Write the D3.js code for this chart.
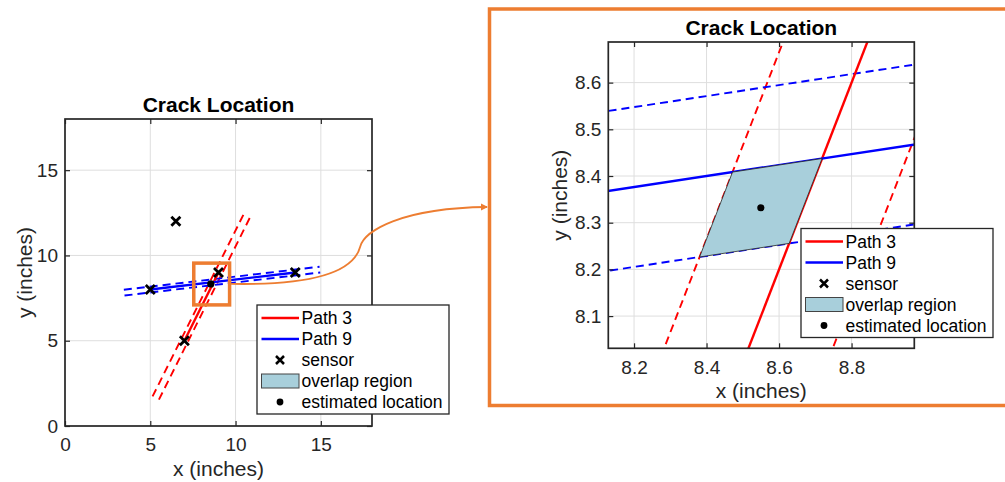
<!DOCTYPE html>
<html>
<head>
<meta charset="utf-8">
<script src="https://cdnjs.cloudflare.com/ajax/libs/d3/7.8.5/d3.min.js"></script>
<style>
  body { margin: 0; background: #fff; }
  svg { display: block; font-family: Arial, 'Liberation Sans', sans-serif; }
</style>
</head>
<body>
<svg id="chart" width="1005" height="482"></svg>
<script>
// sensor positions (inches)
const sensorX = [5, 6.5, 7, 9, 13.5];
const sensorY = [8, 12, 5, 9, 9];

// paths run between sensor pairs
const pathNames = ['Path 3', 'Path 9'];
const pathColors = ['#ff0000', '#0000ff'];
const pathStart = [2, 0];
const pathEnd = [3, 4];
const pathHalfWidth = [0.208, 0.17];
const dashedFrom = [-0.84, -0.18];
const dashedTo = [1.85, 1.17];
// side of each band that makes up the overlap (multiples of half width)
const overlapBand = [[0, 1], [-1, 0]];

// orange zoom box on the full view (inches)
const zoomBoxX = [7.55, 9.65];
const zoomBoxY = [7.1, 9.55];

const fullTicks = [0, 5, 10, 15];
const detailXTicks = [8.2, 8.4, 8.6, 8.8];
const detailYTicks = [8.1, 8.2, 8.3, 8.4, 8.5, 8.6];
const legendLabels = ['Path 3', 'Path 9', 'sensor', 'overlap region', 'estimated location'];

const ORANGE = '#ed7d31';
const AXIS = '#262626';
const PATCH = '#a8cfdb';

const svg = d3.select('#chart');

function pathGeom(i) {
  const ax = sensorX[pathStart[i]], ay = sensorY[pathStart[i]];
  const bx = sensorX[pathEnd[i]], by = sensorY[pathEnd[i]];
  const len = Math.hypot(bx - ax, by - ay);
  return { ax, ay, dx: bx - ax, dy: by - ay, nx: -(by - ay) / len, ny: (bx - ax) / len, w: pathHalfWidth[i] };
}

function offsetLine(p, k, t0, t1) {
  const ox = p.ax + p.nx * p.w * k, oy = p.ay + p.ny * p.w * k;
  return [[ox + p.dx * t0, oy + p.dy * t0], [ox + p.dx * t1, oy + p.dy * t1]];
}

function intersect(p, k1, q, k2) {
  const px = p.ax + p.nx * p.w * k1, py = p.ay + p.ny * p.w * k1;
  const qx = q.ax + q.nx * q.w * k2, qy = q.ay + q.ny * q.w * k2;
  const rx = qx - px, ry = qy - py;
  const det = -p.dx * q.dy + p.dy * q.dx;
  const s = (-rx * q.dy + ry * q.dx) / det;
  return [px + s * p.dx, py + s * p.dy];
}

const geoms = pathNames.map((_, i) => pathGeom(i));
const rb = overlapBand[0], bb = overlapBand[1];
const overlap = [
  intersect(geoms[0], rb[0], geoms[1], bb[1]),
  intersect(geoms[0], rb[0], geoms[1], bb[0]),
  intersect(geoms[0], rb[1], geoms[1], bb[0]),
  intersect(geoms[0], rb[1], geoms[1], bb[1]),
];
const estimate = [d3.mean(overlap, (d) => d[0]), d3.mean(overlap, (d) => d[1])];

function drawPanel(cfg) {
  const g = svg.append('g');
  const x = d3.scaleLinear().domain(cfg.xDomain).range([cfg.left, cfg.left + cfg.width]);
  const y = d3.scaleLinear().domain(cfg.yDomain).range([cfg.top + cfg.height, cfg.top]);
  const bottom = cfg.top + cfg.height, right = cfg.left + cfg.width;

  const clipId = 'clip-' + cfg.id;
  svg.append('clipPath').attr('id', clipId)
    .append('rect').attr('x', cfg.left).attr('y', cfg.top)
    .attr('width', cfg.width).attr('height', cfg.height);

  // grid
  const grid = g.append('g').attr('stroke', '#dedede').attr('stroke-width', 1);
  grid.selectAll('.gx').data(cfg.xTicks).join('line').attr('class', 'gx')
    .attr('x1', (d) => x(d)).attr('x2', (d) => x(d)).attr('y1', cfg.top).attr('y2', bottom);
  grid.selectAll('.gy').data(cfg.yTicks).join('line').attr('class', 'gy')
    .attr('y1', (d) => y(d)).attr('y2', (d) => y(d)).attr('x1', cfg.left).attr('x2', right);

  const plot = g.append('g').attr('clip-path', `url(#${clipId})`);
  const line = d3.line().x((d) => x(d[0])).y((d) => y(d[1]));

  // dashed band edges
  geoms.forEach((p, i) => {
    [-1, 1].forEach((k) => {
      plot.append('path')
        .attr('d', line(offsetLine(p, k, dashedFrom[i], dashedTo[i])))
        .attr('fill', 'none').attr('stroke', pathColors[i])
        .attr('stroke-width', 1.9).attr('stroke-dasharray', '8,5');
    });
  });
  // solid path lines
  geoms.forEach((p, i) => {
    plot.append('path')
      .attr('d', line(offsetLine(p, 0, 0, 1)))
      .attr('fill', 'none').attr('stroke', pathColors[i]).attr('stroke-width', 2.4);
  });

  // overlap region
  plot.append('path')
    .attr('d', line(overlap) + 'Z')
    .attr('fill', PATCH).attr('stroke', '#222').attr('stroke-width', 0.8);

  // sensors
  plot.selectAll('.sensor').data(sensorX).join('path').attr('class', 'sensor')
    .attr('transform', (d, i) => `translate(${x(d)},${y(sensorY[i])})`)
    .attr('d', 'M-4.5,-4.5L4.5,4.5M-4.5,4.5L4.5,-4.5')
    .attr('stroke', '#000').attr('stroke-width', 2.8);

  // estimated location
  plot.append('circle')
    .attr('cx', x(estimate[0])).attr('cy', y(estimate[1])).attr('r', 3.6).attr('fill', '#000');

  if (cfg.extra) cfg.extra(g, x, y);

  // axes
  const styleAxis = (sel) => {
    sel.attr('font-family', null).attr('font-size', 19);
    sel.select('.domain').remove();
    sel.selectAll('.tick line').attr('stroke', AXIS).attr('stroke-width', 1.2);
    sel.selectAll('.tick text').attr('fill', AXIS);
  };
  g.append('g').attr('transform', `translate(0,${bottom})`)
    .call(d3.axisBottom(x).tickValues(cfg.xTicks).tickSize(-5).tickPadding(12).tickFormat(cfg.fmt))
    .call(styleAxis);
  g.append('g').attr('transform', `translate(0,${cfg.top})`)
    .call(d3.axisTop(x).tickValues(cfg.xTicks).tickSize(-5).tickFormat(''))
    .call(styleAxis);
  g.append('g').attr('transform', `translate(${cfg.left},0)`)
    .call(d3.axisLeft(y).tickValues(cfg.yTicks).tickSize(-5).tickPadding(7).tickFormat(cfg.fmt))
    .call(styleAxis);
  g.append('g').attr('transform', `translate(${right},0)`)
    .call(d3.axisRight(y).tickValues(cfg.yTicks).tickSize(-5).tickFormat(''))
    .call(styleAxis);

  g.append('rect')
    .attr('x', cfg.left).attr('y', cfg.top).attr('width', cfg.width).attr('height', cfg.height)
    .attr('fill', 'none').attr('stroke', AXIS).attr('stroke-width', 1.7);

  // titles
  g.append('text').attr('x', cfg.left + cfg.width / 2).attr('y', cfg.top - 7.5)
    .attr('text-anchor', 'middle').attr('font-size', 21).attr('font-weight', 'bold')
    .attr('fill', '#000').text('Crack Location');
  g.append('text').attr('x', cfg.left + cfg.width / 2).attr('y', bottom + 50)
    .attr('text-anchor', 'middle').attr('font-size', 21).attr('fill', AXIS).text('x (inches)');
  g.append('text')
    .attr('transform', `translate(${cfg.ylabelX},${cfg.top + cfg.height / 2}) rotate(-90)`)
    .attr('dy', '0.3em').attr('text-anchor', 'middle').attr('font-size', 21)
    .attr('fill', AXIS).text('y (inches)');

  drawLegend(cfg.legendX, cfg.legendY);
  return { x, y };
}

function drawLegend(lx, ly) {
  const lg = svg.append('g').attr('transform', `translate(${lx},${ly})`);
  lg.append('rect').attr('width', 192).attr('height', 109)
    .attr('fill', '#fff').attr('stroke', AXIS).attr('stroke-width', 1.3);
  legendLabels.forEach((label, i) => {
    const cy = 13 + i * 21;
    const row = lg.append('g').attr('transform', `translate(0,${cy})`);
    if (i < 2) {
      row.append('line').attr('x1', 4.5).attr('x2', 42).attr('stroke', pathColors[i]).attr('stroke-width', 2.4);
    } else if (i === 2) {
      row.append('path').attr('transform', 'translate(23,0)')
        .attr('d', 'M-4,-4L4,4M-4,4L4,-4').attr('stroke', '#000').attr('stroke-width', 2.5);
    } else if (i === 3) {
      row.append('rect').attr('x', 4.5).attr('y', -7).attr('width', 37.5).attr('height', 14)
        .attr('fill', PATCH).attr('stroke', '#444').attr('stroke-width', 1);
    } else {
      row.append('circle').attr('cx', 23).attr('r', 3.4).attr('fill', '#000');
    }
    row.append('text').attr('x', 44.5).attr('dy', '0.35em')
      .attr('font-size', 17.5).attr('fill', '#000').text(label);
  });
}

// full view
const full = drawPanel({
  id: 'full', left: 65, top: 119, width: 307, height: 307,
  xDomain: [0, 18], yDomain: [0, 18], xTicks: fullTicks, yTicks: fullTicks,
  fmt: d3.format('d'), ylabelX: 26, legendX: 257, legendY: 305,
  extra: (g, x, y) => {
    g.append('rect')
      .attr('x', x(zoomBoxX[0])).attr('y', y(zoomBoxY[1]))
      .attr('width', x(zoomBoxX[1]) - x(zoomBoxX[0])).attr('height', y(zoomBoxY[0]) - y(zoomBoxY[1]))
      .attr('fill', 'none').attr('stroke', ORANGE).attr('stroke-width', 3.5);
  },
});

// zoomed view
drawPanel({
  id: 'detail', left: 608.3, top: 42, width: 306, height: 306.3,
  xDomain: [8.129, 8.973], yDomain: [8.031, 8.687], xTicks: detailXTicks, yTicks: detailYTicks,
  fmt: d3.format('.1f'), ylabelX: 561, legendX: 801, legendY: 228.5,
});

// frame around the zoomed view
svg.append('rect').attr('x', 489.5).attr('y', 9).attr('width', 600).attr('height', 396.5)
  .attr('fill', 'none').attr('stroke', ORANGE).attr('stroke-width', 3.5);

// connector from zoom box to frame
const sx = full.x(zoomBoxX[1]) + 1.5, sy = full.y(estimate[1]);
const ex = 487, ey = 207;
svg.append('path')
  .attr('d', `M${sx},${sy} C${sx + 80},${sy + 1.5} ${sx + 122},${sy - 11} ${sx + 129},${sy - 37}`
    + ` C${sx + 133},${sy - 53} ${sx + 170},${ey + 1} ${ex},${ey}`)
  .attr('fill', 'none').attr('stroke', ORANGE).attr('stroke-width', 1.8);
svg.append('path')
  .attr('d', `M${ex + 1},${ey} L${ex - 6},${ey - 3.5} L${ex - 6},${ey + 3.5} Z`)
  .attr('fill', ORANGE);
</script>
</body>
</html>
